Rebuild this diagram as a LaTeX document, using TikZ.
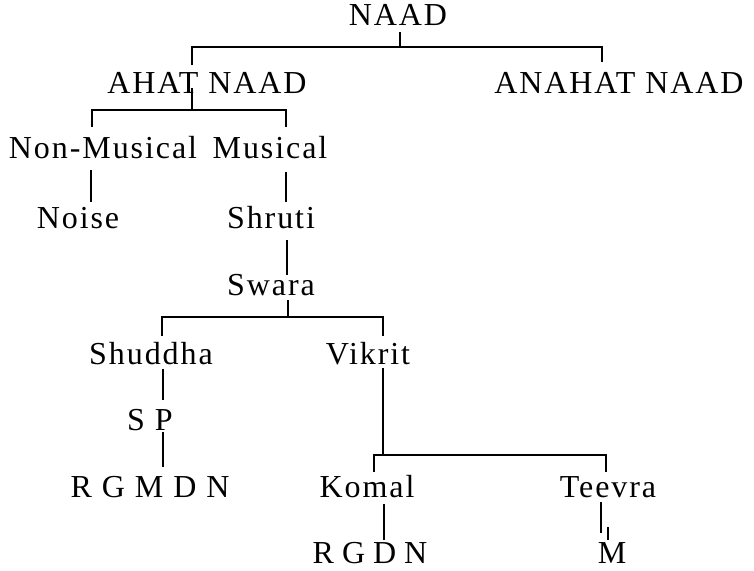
\documentclass[tikz,border=0pt]{standalone}
\usepackage{fontspec}
\setmainfont{Liberation Serif}[LetterSpace=6]
\begin{document}
\begin{tikzpicture}[x=1pt,y=-1pt,
  lbl/.style={anchor=base,inner sep=0pt,font=\fontsize{32}{36}\selectfont},
  conn/.style={line width=1.7pt}]
\useasboundingbox (0,0) rectangle (754,570);
% texts
\node[lbl] (naad) at (398,25) {NAAD};
\node[lbl] (ahat) at (207,93) {AHAT NAAD};
\node[lbl] (anahat) at (619,93) {ANAHAT NAAD};
\node[lbl] (nonmus) at (103,158) {Non-Musical};
\node[lbl] (mus) at (270,158) {Musical};
\node[lbl] (noise) at (78,228) {Noise};
\node[lbl] (shruti) at (271,228) {Shruti};
\node[lbl] (swara) at (271,295) {Swara};
\node[lbl] (shuddha) at (151,364) {Shuddha};
\node[lbl] (vikrit) at (368,364) {Vikrit};
\node[lbl] (sp) at (150,430) {S P};
\node[lbl] (rgmdn) at (150,497) {R G M D N};
\node[lbl] (komal) at (367,497) {Komal};
\node[lbl] (teevra) at (608,497) {Teevra};
\node[lbl] (rgdn) at (370,563) {R\hspace{8pt}G\hspace{8pt}D\hspace{8pt}N};
\node[lbl] (m) at (612,563) {M};
% junction coordinates
\coordinate (a1) at (400,32);  \coordinate (a2) at (400,47);
\coordinate (b1) at (192,65);  \coordinate (b2) at (602,62);
\coordinate (c1) at (192,88);  \coordinate (c2) at (192,110);
\coordinate (d1) at (92,127);  \coordinate (d2) at (286,127);
\coordinate (e1) at (91,170);  \coordinate (e2) at (91,202);
\coordinate (f1) at (286,172); \coordinate (f2) at (286,202);
\coordinate (g1) at (287,240); \coordinate (g2) at (287,275);
\coordinate (h1) at (288,300); \coordinate (h2) at (288,317);
\coordinate (i1) at (162,336); \coordinate (i2) at (383,336);
\coordinate (k1) at (163,369); \coordinate (k2) at (163,400);
\coordinate (l1) at (163,432); \coordinate (l2) at (163,467);
\coordinate (n1) at (383,368); \coordinate (n2) at (383,455);
\coordinate (o1) at (374,472); \coordinate (o2) at (606,472);
\coordinate (p1) at (384,504); \coordinate (p2) at (384,540);
\coordinate (q1) at (601,502); \coordinate (q2) at (601,533);
\coordinate (t1) at (608,527); \coordinate (t2) at (608,540);
% connectors
\draw[conn] (a1) -- (a2);
\draw[conn] (b1) |- (a2) -| (b2);
\draw[conn] (c1) -- (c2);
\draw[conn] (d1) |- (c2) -| (d2);
\draw[conn] (e1) -- (e2);
\draw[conn] (f1) -- (f2);
\draw[conn] (g1) -- (g2);
\draw[conn] (h1) -- (h2);
\draw[conn] (i1) |- (h2) -| (i2);
\draw[conn] (k1) -- (k2);
\draw[conn] (l1) -- (l2);
\draw[conn] (n1) -- (n2);
\draw[conn] (o1) |- (n2) -| (o2);
\draw[conn] (p1) -- (p2);
\draw[conn] (q1) -- (q2);
\draw[line width=1.3pt] (t1) -- (t2);
\end{tikzpicture}
\end{document}
